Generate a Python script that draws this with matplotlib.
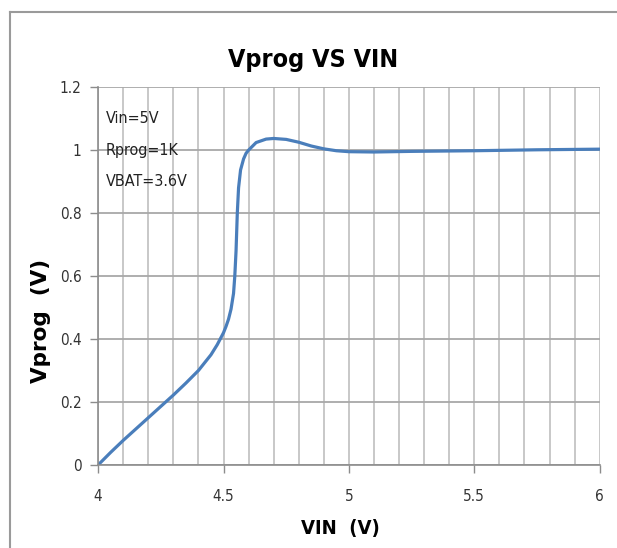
import numpy as np
import matplotlib.pyplot as plt
from matplotlib.ticker import MultipleLocator

# 读图得到的数据点
vin = [4.0, 4.05, 4.1, 4.2, 4.3, 4.35, 4.4, 4.45, 4.475, 4.5, 4.51, 4.52, 4.53,
       4.54, 4.545, 4.55, 4.555, 4.56, 4.568, 4.58, 4.59, 4.6, 4.63, 4.67, 4.7,
       4.75, 4.8, 4.85, 4.9, 4.95, 5.0, 5.1, 5.25, 5.5, 5.75, 6.0]
vprog = [0.0, 0.04, 0.078, 0.15, 0.222, 0.26, 0.30, 0.35, 0.382, 0.42, 0.44, 0.463, 0.495,
         0.545, 0.60, 0.68, 0.80, 0.88, 0.937, 0.972, 0.99, 1.0, 1.024, 1.035, 1.037,
         1.034, 1.025, 1.013, 1.004, 0.998, 0.995, 0.994, 0.996, 0.998, 1.001, 1.003]
x_ticks = [4, 4.5, 5, 5.5, 6]
y_ticks = [0, 0.2, 0.4, 0.6, 0.8, 1.0, 1.2]
y_tick_labels = ['0', '0.2', '0.4', '0.6', '0.8', '1', '1.2']
notes = ['Vin=5V', 'Rprog=1K', 'VBAT=3.6V']

fig = plt.figure(figsize=(6.17, 5.48), dpi=100)
ax = fig.add_axes([0.159, 0.1515, 0.813, 0.6895])

ax.plot(vin, vprog, color='#4a7ebb', linewidth=2.3, solid_capstyle='round',
        solid_joinstyle='round')

ax.set_xlim(4, 6)
ax.set_ylim(0, 1.2)
ax.set_xticks(x_ticks)
ax.set_xticklabels([f'{t:g}' for t in x_ticks], fontstretch='condensed')
ax.set_yticks(y_ticks)
ax.set_yticklabels(y_tick_labels, fontstretch='condensed')
ax.xaxis.set_minor_locator(MultipleLocator(0.1))
ax.grid(True, which='both', axis='x', color='#c4c4c4', linewidth=1.3)
ax.grid(True, which='major', axis='y', color='#a8a8a8', linewidth=1.3)
ax.set_axisbelow(True)
ax.tick_params(axis='both', which='major', length=6, width=1, color='#8c8c8c',
               labelsize=11, labelcolor='#333333', pad=6)
ax.tick_params(axis='x', which='major', pad=11)
ax.tick_params(axis='x', which='minor', length=0)
for side in ['left', 'bottom']:
    ax.spines[side].set_color('#8c8c8c')
    ax.spines[side].set_linewidth(1.2)
for side in ['top', 'right']:
    ax.spines[side].set_visible(False)

for i, s in enumerate(notes):
    ax.text(4.03, 1.1 - i * 0.1, s, fontsize=11.5, color='#222222',
            va='center', ha='left', fontstretch='condensed')

fig.text(0.508, 0.89, 'Vprog VS VIN', fontsize=18, fontweight='bold',
         ha='center', va='center', fontstretch='condensed')
fig.text(0.551, 0.035, 'VIN  (V)', fontsize=14.5, fontweight='bold',
         ha='center', va='center', fontstretch='condensed')
fig.text(0.066, 0.415, 'Vprog  (V)', fontsize=15.5, fontweight='bold',
         ha='center', va='center', rotation=90)

# 外框
fig.add_artist(plt.Line2D([0.017, 0.017], [0.0, 0.978], color='#9a9a9a', linewidth=1.5))
fig.add_artist(plt.Line2D([0.017, 1.0], [0.978, 0.978], color='#9a9a9a', linewidth=1.5))

plt.savefig('out.png', dpi=100)
